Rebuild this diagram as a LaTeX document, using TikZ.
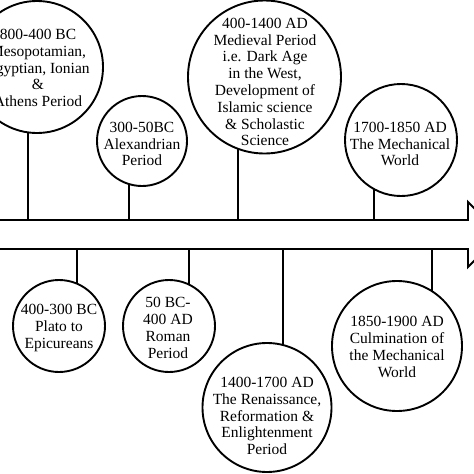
\documentclass[tikz,border=0pt]{standalone}
\usepackage{fontspec}
\setmainfont{Liberation Serif}
\usetikzlibrary{backgrounds}
\begin{document}
\begin{tikzpicture}[x=1pt,y=-1pt,
  bub/.style={circle,draw,line width=1.9pt,fill=white,inner sep=0pt},
  txt/.style={align=center,font=\fontsize{15.5}{16.8}\selectfont,inner sep=0pt},
  ln/.style={line width=1.9pt}]
\useasboundingbox (0,0) rectangle (474,474);
\clip (0,0) rectangle (474,474);
% circles
\node[bub,minimum size=132pt] (c1) at (37,67) {};
\node[bub,minimum size=90pt]  (c2) at (142,141) {};
\node[bub,minimum size=153pt] (c3) at (264.5,77) {};
\node[bub,minimum size=112pt] (c4) at (401,140) {};
\node[bub,minimum size=92pt]  (c5) at (59,326) {};
\node[bub,minimum size=92pt]  (c6) at (169,326) {};
\node[bub,minimum size=129pt] (c7) at (267,407.5) {};
\node[bub,minimum size=130pt] (c8) at (397,346) {};
% texts
\node[txt] (l1) at (38,68) {800-400 BC\\Mesopotamian,\\Egyptian, Ionian\\\&\\Athens Period};
\node[txt] (l2) at (142,144) {300-50BC\\Alexandrian\\Period};
\node[txt] (l3) at (265,82) {400-1400 AD\\Medieval Period\\i.e. Dark Age\\in the West,\\Development of\\Islamic science\\\& Scholastic\\Science};
\node[txt] (l4) at (400,144) {1700-1850 AD\\The Mechanical\\World};
\node[txt] (l5) at (59,328) {400-300 BC\\Plato to\\Epicureans};
\node[txt] (l6) at (168,328) {50 BC-\\400 AD\\Roman\\Period};
\node[txt] (l7) at (267,416) {1400-1700 AD\\The Renaissance,\\Reformation \&\\Enlightenment\\Period};
\node[txt] (l8) at (397,347) {1850-1900 AD\\Culmination of\\the Mechanical\\World};
% timeline arrow
\coordinate (a0) at (0,220);
\coordinate (a1) at (468,220);
\coordinate (a2) at (468,202);
\coordinate (tip) at (500.5,234.5);
\coordinate (a3) at (468,267);
\coordinate (a4) at (468,249);
\coordinate (a5) at (0,249);
\draw[ln] (a0) -- (a1) -- (a2) -- (tip) -- (a3) -- (a4) -- (a5);
% stem anchors
\coordinate (t1) at (28,220);
\coordinate (t2) at (129,220);
\coordinate (t3) at (238,220);
\coordinate (t4) at (374,220);
\coordinate (b5) at (77,249);
\coordinate (b6) at (189,249);
\coordinate (b7) at (283,249);
\coordinate (b8) at (432,249);
\begin{scope}[on background layer]
\draw[ln] (t1) -- (t1 |- c1.center);
\draw[ln] (t2) -- (t2 |- c2.center);
\draw[ln] (t3) -- (t3 |- c3.center);
\draw[ln] (t4) -- (t4 |- c4.center);
\draw[ln] (b5) -- (b5 |- c5.center);
\draw[ln] (b6) -- (b6 |- c6.center);
\draw[ln] (b7) -- (b7 |- c7.center);
\draw[ln] (b8) -- (b8 |- c8.center);
\end{scope}
\end{tikzpicture}
\end{document}
